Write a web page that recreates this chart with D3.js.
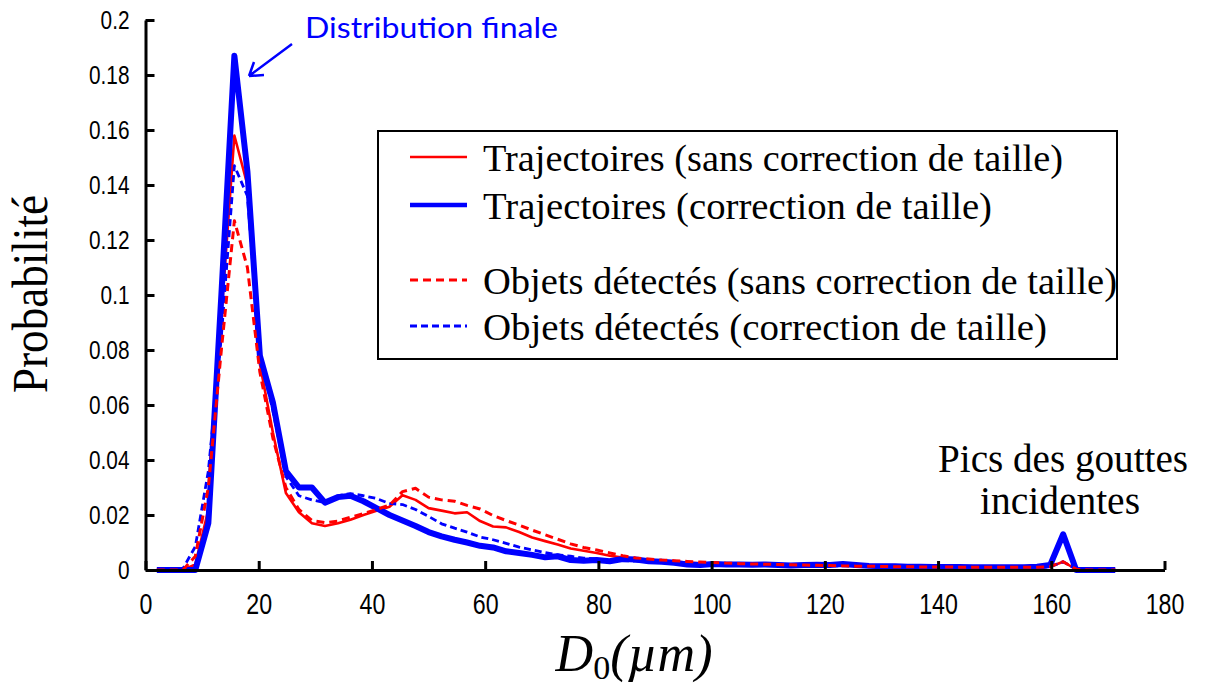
<!DOCTYPE html>
<html><head><meta charset="utf-8">
<script src="https://cdn.jsdelivr.net/npm/d3@7"></script>
<style>body{margin:0;background:#fff}svg{display:block}</style>
</head><body><svg id="c" width="1208" height="686"></svg>
<script>
// ---- data ----
const diameters = [2.0,4.3,6.6,8.8,11.1,13.4,15.7,18.0,20.2,22.5,24.8,27.1,29.4,31.7,34.0,36.2,38.5,40.8,43.1,45.4,47.7,50.0,52.3,54.6,56.8,59.1,61.4,63.7,66.0,68.3,70.6,72.8,75.1,77.4,79.7,82.0,84.3,86.6,88.9,91.2,93.4,95.7,98.0,100.3,102.6,104.9,107.2,109.5,111.8,114.0,116.3,118.6,120.9,123.2,125.5,127.8,130.1,132.4,134.6,136.9,139.2,141.5,143.8,146.1,148.4,150.7,153.0,155.2,157.5,159.8,162.1,164.4,166.7,169.0,171.3];
const trajSans = [0,0,0,0.002,0.022,0.092,0.158,0.140,0.075,0.050,
  0.028,0.021,0.017,0.016,0.017,0.0183,0.020,0.0215,0.023,0.0272,
  0.0255,0.0225,0.0216,0.0206,0.0210,0.0178,0.0158,0.0155,0.0138,0.0118,
  0.0105,0.0093,0.0078,0.0070,0.0062,0.0052,0.0045,0.0040,0.0036,0.0033,
  0.0030,0.0027,0.0024,0.0022,0.0021,0.0020,0.0020,0.0019,0.0018,0.0018,
  0.0017,0.0017,0.0016,0.0016,0.0015,0.0015,0.0014,0.0013,0.0013,0.0012,
  0.0012,0.0012,0.0011,0.0011,0.0011,0.0010,0.0010,0.0010,0.0010,0.0012,
  0.0030,0.0002,0,0,0];
const trajCorr = [0,0,0,0,0.017,0.100,0.187,0.145,0.078,0.061,
  0.036,0.030,0.030,0.0245,0.0265,0.027,0.025,0.0225,0.020,0.018,
  0.016,0.0138,0.0122,0.011,0.0100,0.0088,0.0082,0.0068,0.0062,0.0055,
  0.0046,0.0050,0.0036,0.0034,0.0036,0.0032,0.0040,0.0038,0.0032,0.0030,
  0.0026,0.0020,0.0018,0.0022,0.0020,0.0020,0.0019,0.0020,0.0018,0.0016,
  0.0018,0.0019,0.0018,0.0022,0.0018,0.0015,0.0014,0.0014,0.0012,0.0012,
  0.0011,0.0011,0.0011,0.0010,0.0010,0.0010,0.0010,0.0010,0.0012,0.0018,
  0.0130,0,0,0,0];
const objSans = [0,0,0,0.005,0.030,0.080,0.127,0.110,0.072,0.048,
  0.030,0.022,0.018,0.0172,0.0178,0.0192,0.0205,0.022,0.0236,0.0285,
  0.0297,0.0265,0.0255,0.0250,0.0235,0.0222,0.0198,0.0180,0.0163,0.0145,
  0.0128,0.0112,0.0095,0.0082,0.0073,0.0062,0.0052,0.0044,0.0040,0.0036,
  0.0034,0.0031,0.0029,0.0027,0.0025,0.0023,0.0022,0.0021,0.0020,0.0019,
  0.0018,0.0017,0.0016,0.0015,0.0014,0.0014,0.0013,0.0012,0.0012,0.0011,
  0.0011,0.0011,0.0010,0.0010,0.0010,0.0010,0.0010,0.0010,0.0010,0.0012,
  0.0030,0.0003,0,0,0];
const objCorr = [0,0,0.0005,0.0085,0.036,0.085,0.147,0.136,0.078,0.058,
  0.034,0.027,0.0255,0.0245,0.027,0.0278,0.027,0.026,0.0242,0.0238,
  0.022,0.0195,0.0168,0.0152,0.0138,0.012,0.011,0.0097,0.0083,0.0073,
  0.0063,0.0055,0.0050,0.0043,0.0040,0.0036,0.0034,0.0032,0.0030,0.0028,
  0.0026,0.0024,0.0022,0.0021,0.0020,0.0020,0.0019,0.0018,0.0018,0.0017,
  0.0017,0.0016,0.0016,0.0015,0.0015,0.0014,0.0014,0.0013,0.0013,0.0012,
  0.0012,0.0011,0.0011,0.0011,0.0010,0.0010,0.0010,0.0010,0.0010,0.0012,
  0.0030,0.0003,0,0,0];
const xTicks = [0,20,40,60,80,100,120,140,160,180];
const xTickLabels = ["0","20","40","60","80","100","120","140","160","180"];
const yTicks = [0,0.02,0.04,0.06,0.08,0.1,0.12,0.14,0.16,0.18,0.2];
const yTickLabels = ["0","0.02","0.04","0.06","0.08","0.1","0.12","0.14","0.16","0.18","0.2"];
const seriesNames = ["Trajectoires (sans correction de taille)","Trajectoires (correction de taille)","Objets détectés (sans correction de taille)","Objets détectés (correction de taille)"];

// ---- drawing ----
const svg = d3.select('#c');
svg.append('rect').attr('width',1208).attr('height',686).attr('fill','#fff');
const x = d3.scaleLinear().domain([0,180]).range([145.5,1164.5]);
const y = d3.scaleLinear().domain([0,0.2]).range([570,20]);

function squeeze(sel, k){
  sel.each(function(){
    const w = this.getComputedTextLength();
    d3.select(this).attr('textLength', w*k).attr('lengthAdjust','spacingAndGlyphs');
  });
}

const styles = [
  {vals: trajSans, color:'#ff0000', width:2.6, dash:null},
  {vals: trajCorr, color:'#0000ff', width:6, dash:null},
  {vals: objCorr, color:'#0000ff', width:2.8, dash:'7,4'},
  {vals: objSans, color:'#ff0000', width:3, dash:'8,5'}
];
const line = d3.line().x((d,i)=>x(diameters[i])).y(d=>y(d));
styles.forEach(s=>{
  svg.append('path').datum(s.vals).attr('d',line)
    .attr('fill','none').attr('stroke',s.color).attr('stroke-width',s.width)
    .attr('stroke-linejoin','round').attr('stroke-dasharray',s.dash);
});

// axes
const gx = svg.append('g').attr('transform','translate(0,570)')
  .call(d3.axisBottom(x).tickValues(xTicks).tickFormat((d,i)=>xTickLabels[i])
    .tickSizeInner(-9).tickSizeOuter(0).tickPadding(23));
const gy = svg.append('g').attr('transform','translate(145.5,0)')
  .call(d3.axisLeft(y).tickValues(yTicks).tickFormat((d,i)=>yTickLabels[i])
    .tickSizeInner(-9).tickSizeOuter(0).tickPadding(16));
[gx,gy].forEach(g=>{
  g.select('.domain').attr('stroke','#000').attr('stroke-width',3);
  g.selectAll('.tick line').attr('stroke','#000').attr('stroke-width',3);
  g.selectAll('.tick text').attr('font-family','Liberation Sans, Arial, sans-serif').attr('fill','#000');
});
gx.selectAll('.tick text').attr('font-size',29);
gy.selectAll('.tick text').attr('font-size',26);
squeeze(gx.selectAll('.tick text'),0.8);
squeeze(gy.selectAll('.tick text'),0.8);

// axis titles
const yl = svg.append('text').attr('transform','translate(47,294) rotate(-90)')
  .attr('text-anchor','middle').attr('font-family','Liberation Serif, Times New Roman, serif')
  .attr('font-size',51).attr('textLength',198).attr('lengthAdjust','spacingAndGlyphs').text('Probabilité');

const xl = svg.append('text').attr('x',634).attr('y',671).attr('text-anchor','middle')
  .attr('font-family','Liberation Serif, Times New Roman, serif').attr('font-size',52);
xl.append('tspan').attr('font-style','italic').text('D');
xl.append('tspan').attr('font-size',34).attr('dy',8).text('0');
xl.append('tspan').attr('dy',-8).attr('font-style','italic').text('(µm)');
xl.attr('textLength',157).attr('lengthAdjust','spacingAndGlyphs');

// legend
const lg = svg.append('g');
lg.append('rect').attr('x',378).attr('y',131).attr('width',739).attr('height',228)
  .attr('fill','#fff').attr('stroke','#000').attr('stroke-width',2);
const legRows = [
  {s:styles[0], name:seriesNames[0], y:157},
  {s:styles[1], name:seriesNames[1], y:205},
  {s:styles[3], name:seriesNames[2], y:280},
  {s:styles[2], name:seriesNames[3], y:326}
];
const legW = [580,509,634,564];
legRows.forEach((r,i)=>{
  lg.append('line').attr('x1',410).attr('x2',467).attr('y1',r.y).attr('y2',r.y)
    .attr('stroke',r.s.color).attr('stroke-width',Math.min(r.s.width,4.5)).attr('stroke-dasharray',r.s.dash);
  lg.append('text').attr('x',483).attr('y',r.y+14)
    .attr('font-family','Liberation Serif, Times New Roman, serif').attr('font-size',38)
    .attr('textLength',legW[i]).attr('lengthAdjust','spacingAndGlyphs').text(r.name);
});

// annotations
svg.append('text').attr('x',305).attr('y',38).attr('font-family','Lato, sans-serif')
  .attr('font-size',29).attr('fill','#0000ff')
  .attr('textLength',253).attr('lengthAdjust','spacingAndGlyphs').text('Distribution finale');
svg.append('path').attr('d','M292,44 L249,76 M249,76 L264,75 M249,76 L254,62')
  .attr('fill','none').attr('stroke','#0000ff').attr('stroke-width',2.5);
const pics = svg.append('text').attr('text-anchor','middle')
  .attr('font-family','Liberation Serif, Times New Roman, serif').attr('font-size',40);
pics.append('tspan').attr('x',1063).attr('y',472).attr('textLength',250).attr('lengthAdjust','spacingAndGlyphs').text('Pics des gouttes');
pics.append('tspan').attr('x',1060).attr('y',514).attr('textLength',160).attr('lengthAdjust','spacingAndGlyphs').text('incidentes');
</script></body></html>
